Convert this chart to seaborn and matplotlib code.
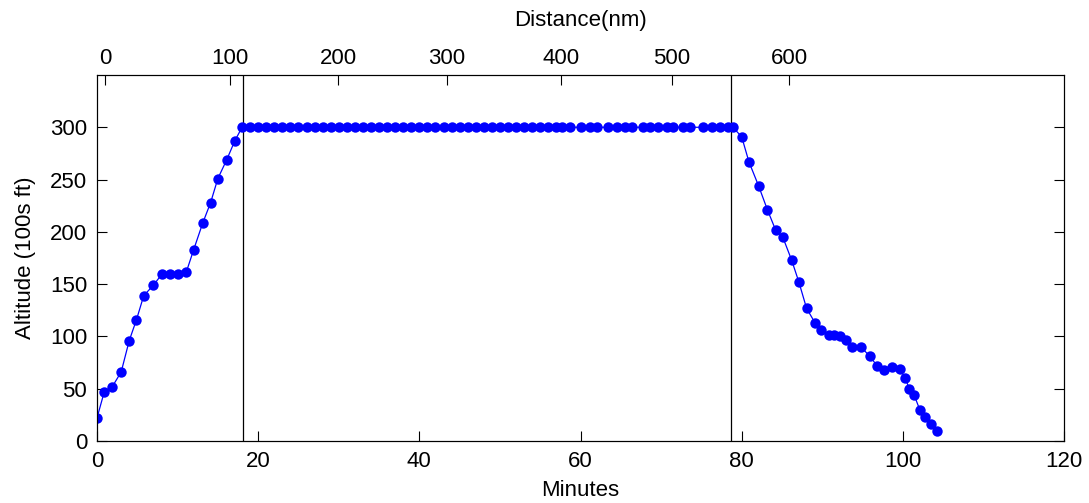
import matplotlib
matplotlib.use("Agg")
import matplotlib.pyplot as plt
import seaborn as sns
import pandas as pd

# ---- data ----
minutes = [
    0.0, 0.9, 1.9, 3.0, 4.0, 4.9, 5.8, 7.0, 8.1, 9.0, 10.1, 11.1, 12.0, 13.1, 14.1, 15.0,
    16.1, 17.1, 18.0,
    19.0, 20.0, 21.0, 22.0, 22.9, 24.0, 25.0, 26.0, 27.0, 28.0, 29.0, 30.0, 31.0, 32.0,
    33.0, 34.0, 35.0, 36.0, 37.0, 38.0, 39.0, 40.0, 41.0, 42.0, 43.0, 44.0, 45.0, 46.0,
    47.0, 48.0, 49.0, 50.0, 51.0, 52.0, 53.0, 54.0, 55.0, 56.0, 57.0, 57.7, 58.7, 60.1,
    61.2, 62.1, 63.4, 64.5, 65.5, 66.4, 67.7, 68.6, 69.6, 70.7, 71.5, 72.7, 73.6, 75.2,
    76.3, 77.3, 78.3, 78.9,
    80.0, 80.9, 82.1, 83.2, 84.2, 85.1, 86.2, 87.1, 88.05, 89.1, 89.9, 90.8, 91.4, 92.2,
    92.9, 93.75, 94.8, 95.9, 96.8, 97.7, 98.7, 99.6, 100.3, 100.8, 101.4, 102.1, 102.8,
    103.5, 104.2,
]
climb_alt = [22, 47, 52, 66, 96, 116, 139, 149, 160, 160, 160, 162, 183, 208, 228, 251,
             269, 287, 300]
cruise_alt = [300] * 60
descent_alt = [291, 267, 244, 221, 202, 195, 173, 152, 127, 113, 106, 101, 101, 100,
               97, 90, 90, 81, 72, 68, 71, 69, 60, 50, 44, 30, 23, 16, 10]
altitude = climb_alt + cruise_alt + descent_alt

phase_marks = [18.1, 78.7]                       # top of climb / top of descent (minutes)
distance_labels = [0, 100, 200, 300, 400, 500, 600]
distance_tick_minutes = [1.0, 16.5, 29.9, 43.4, 57.6, 71.3, 85.9]
x_ticks = [0, 20, 40, 60, 80, 100, 120]
y_ticks = [0, 50, 100, 150, 200, 250, 300]

df = pd.DataFrame({"Minutes": minutes, "Altitude": altitude})

# ---- style ----
sns.set_style("white")
plt.rcParams["font.family"] = ["Liberation Sans", "DejaVu Sans"]
plt.rcParams["text.color"] = "black"
plt.rcParams["axes.labelcolor"] = "black"
plt.rcParams["xtick.color"] = "black"
plt.rcParams["ytick.color"] = "black"
FS = 16

fig = plt.figure(figsize=(10.89, 5.03), dpi=100)
ax = fig.add_axes([97 / 1089, 1 - 441 / 503, (1064 - 97) / 1089, (441 - 75) / 503])

sns.lineplot(data=df, x="Minutes", y="Altitude", ax=ax, color=(0, 0, 1),
             linewidth=0.9, marker="o", markersize=7.5, markeredgewidth=0,
             markerfacecolor=(0, 0, 1), estimator=None)

for m in phase_marks:
    ax.axvline(m, color="black", linewidth=0.9, zorder=1)

ax.set_xlim(0, 120)
ax.set_ylim(0, 350)
ax.set_xticks(x_ticks)
ax.set_yticks(y_ticks)
ax.set_xlabel("Minutes", fontsize=FS, labelpad=6, color="black")
ax.set_ylabel("Altitude (100s ft)", fontsize=FS, labelpad=10, color="black")
ax.tick_params(axis="x", direction="in", length=7, width=0.8, pad=7, labelsize=FS,
               bottom=True, top=False, color="black", labelcolor="black")
ax.tick_params(axis="y", direction="in", length=7, width=0.8, pad=7, labelsize=FS,
               left=True, right=True, color="black", labelcolor="black")
for s in ax.spines.values():
    s.set_color("black")
    s.set_linewidth(0.8)
    s.set_visible(True)

ax2 = ax.twiny()
ax2.set_xlim(ax.get_xlim())
ax2.set_xticks(distance_tick_minutes)
ax2.set_xticklabels([str(d) for d in distance_labels])
ax2.set_xlabel("Distance(nm)", fontsize=FS, labelpad=16, color="black")
ax2.tick_params(axis="x", direction="in", length=7, width=0.8, pad=4, labelsize=FS,
                color="black", labelcolor="black")
for s in ax2.spines.values():
    s.set_color("black")
    s.set_linewidth(0.8)

fig.savefig("out.png", dpi=100)
